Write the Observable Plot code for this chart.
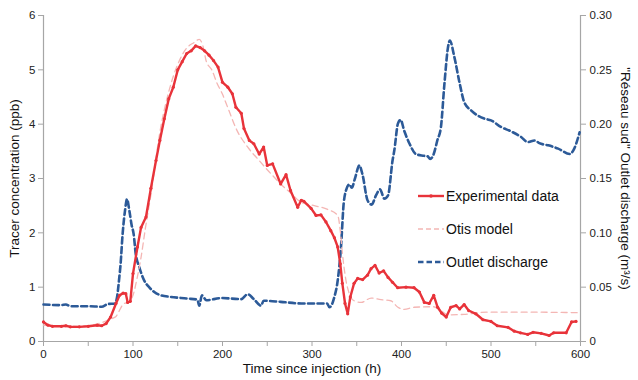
<!DOCTYPE html>
<html><head><meta charset="utf-8">
<script src="https://cdn.jsdelivr.net/npm/d3@7"></script>
<script src="https://cdn.jsdelivr.net/npm/@observablehq/plot@0.6"></script>
<style>
body{margin:0;background:#fff;font-family:"Liberation Sans",Arial,sans-serif}
#wrap{position:relative;width:638px;height:380px}
#legend{position:absolute;left:418px;top:186px;font-size:14px;color:#111}
#legend div{height:33px;display:flex;align-items:center;position:relative;top:-7px}
#legend svg{margin-right:2px}
</style>
</head><body><div id="wrap"><div id="legend"></div></div>
<script>
// Experimental data (ppb)
const expT = [0,5,10,20,25,30,40,50,60,65,70,75,81,85,89,92,94,97,100,105,109,114.5,120,125.7,130,135,140,145,150,155,160,165,170,175,180,185,190,195,200,206,211,215,221,224,230,235,241,246,250,256,265,271,276,284,288,291,299,304.5,310,315.6,321,325,328.7,331.6,333.9,336.9,339.9,342.8,347,351,356.6,362,366,370.4,375,380,385,390,395.7,405,414,420,425.5,431,436,440.4,445,450,455,461,465,470,475,483,491,500,507,519,526,533,541,547,556,565,570,584,590,595];
const expC = [0.36,0.3,0.28,0.28,0.29,0.27,0.27,0.28,0.3,0.29,0.33,0.45,0.7,0.85,0.89,0.88,0.72,0.74,1.25,1.74,2.1,2.29,2.82,3.33,3.7,4.1,4.47,4.68,5.0,5.15,5.3,5.35,5.44,5.41,5.35,5.27,5.17,5.05,4.77,4.68,4.56,4.31,4.2,3.92,3.7,3.64,3.45,3.58,3.24,3.27,2.9,3.07,2.78,2.47,2.6,2.58,2.45,2.32,2.33,2.2,2.04,1.91,1.74,1.43,1.07,0.7,0.51,0.82,1.07,1.16,1.14,1.22,1.34,1.4,1.26,1.3,1.18,1.09,0.99,1.0,0.99,0.91,0.72,0.7,0.85,0.63,0.52,0.45,0.63,0.66,0.6,0.68,0.57,0.51,0.4,0.37,0.29,0.26,0.19,0.16,0.13,0.17,0.15,0.11,0.16,0.16,0.36,0.37];
// Otis model (ppb)
const otisT = [0,40,80,90,95,100,105,109,114,120,130,140,150,160,168,174,178,182,188,194,200,206,216,228,241,254,265,277,288,302.6,317.5,328.7,331.6,334,338,341.7,347,355,366,377,388,396,403,414,436,443,452,470,496,540,598];
const otisC = [0.3,0.28,0.45,0.7,0.72,0.85,1.2,1.55,2.1,2.7,3.85,4.6,5.1,5.4,5.5,5.56,5.45,5.15,5.0,4.75,4.55,4.3,3.89,3.58,3.33,3.09,2.9,2.72,2.56,2.5,2.43,2.32,2.04,1.62,1.12,0.88,0.75,0.72,0.8,0.77,0.75,0.63,0.59,0.63,0.64,0.58,0.49,0.5,0.54,0.54,0.53];
// Outlet discharge (m3/s)
const qT = [0,20,25,30,50,65,72,80,82,84.7,86,88.5,91,93.3,96,98.5,100.7,103,107,112.6,118,123.8,131,142.5,161,172,174,177,182,199,221,228,235,243,246,265,288,317,319.4,325,328.7,332.4,335.4,338,341.7,344.4,348,352.9,356.6,362,366.7,371.5,376,380.8,385,390,392,396,399,403,409,416,424,429,432,436,440,444,448,452,454,459,465,470,478,485,493,500,511,522,534,541,549,554,564,575,588,593,599];
const qV = [0.034,0.0335,0.034,0.0325,0.0325,0.032,0.0345,0.035,0.04,0.059,0.07,0.1,0.12,0.131,0.12,0.107,0.099,0.081,0.0685,0.056,0.05,0.0455,0.0425,0.041,0.0395,0.0385,0.033,0.0425,0.038,0.04,0.039,0.0435,0.039,0.033,0.0375,0.0365,0.035,0.035,0.0315,0.041,0.056,0.087,0.127,0.139,0.1445,0.1415,0.15,0.162,0.153,0.13,0.126,0.1345,0.14,0.1315,0.1345,0.1665,0.176,0.2005,0.204,0.194,0.182,0.1725,0.171,0.1705,0.168,0.1725,0.185,0.197,0.2375,0.271,0.277,0.262,0.2375,0.2205,0.2125,0.208,0.205,0.2035,0.1975,0.1935,0.188,0.1835,0.185,0.1825,0.1805,0.1775,0.1725,0.1775,0.1925];
// Tick labels
const xTicks = [0,100,200,300,400,500,600];
const yTicks = [0,1,2,3,4,5,6];
const qTicks = [0,0.05,0.10,0.15,0.20,0.25,0.30];
const series = ["Experimental data","Otis model","Outlet discharge"];

const RED = "#e8333a", PINK = "#f4b6b4", BLUE = "#2c5a98", AXIS = "#a6a6a6";
const qToY = q => q * 20; // right axis 0–0.30 maps onto left 0–6

const exp = expT.map((t,i)=>({t, v: expC[i]}));
const otis = otisT.map((t,i)=>({t, v: otisC[i]}));
const dis = qT.map((t,i)=>({t, v: qToY(qV[i])}));

const chart = Plot.plot({
  width: 638, height: 380,
  marginLeft: 43, marginRight: 58, marginTop: 15, marginBottom: 39,
  style: {fontFamily: '"Liberation Sans", Arial, sans-serif', fontSize: "11.5px", color: "#222", background: "#fff"},
  x: {domain: [0, 600]},
  y: {domain: [0, 6]},
  marks: [
    Plot.ruleX([0], {stroke: AXIS, strokeWidth: 1.2}),
    Plot.ruleX([600], {stroke: AXIS, strokeWidth: 1.2}),
    Plot.ruleY([0], {stroke: AXIS, strokeWidth: 1.2}),
    Plot.axisX({ticks: d3.range(0, 601, 50), tickSize: 5, tickFormat: d => xTicks.includes(d) ? String(d) : "", stroke: AXIS, label: null, tickPadding: 3}),
    Plot.axisY({ticks: yTicks, tickSize: 5, tickFormat: d => String(d), stroke: AXIS, label: null, tickPadding: 3}),
    Plot.axisY({anchor: "right", ticks: qTicks.map(qToY), tickSize: 5, stroke: AXIS, label: null, tickPadding: 4,
      tickFormat: d => { const q = d / 20; return q === 0 ? "0" : q.toFixed(2); }}),
    Plot.line(dis, {x: "t", y: "v", stroke: BLUE, strokeWidth: 2.6, strokeDasharray: "6,3.5", curve: "monotone-x"}),
    Plot.line(otis, {x: "t", y: "v", stroke: PINK, strokeWidth: 1.3, strokeDasharray: "6,4", curve: "monotone-x"}),
    Plot.line(exp, {x: "t", y: "v", stroke: RED, strokeWidth: 2.4, curve: "linear"}),
    Plot.dot(exp, {x: "t", y: "v", r: 1.6, fill: RED, stroke: null}),
    Plot.text(["Time since injection (h)"], {frameAnchor: "bottom", dy: 31, fontSize: 13.5, fill: "#111", textAnchor: "middle"}),
    Plot.text(["Tracer concentration (ppb)"], {frameAnchor: "left", dx: -29, rotate: -90, fontSize: 13.5, fill: "#111", textAnchor: "middle"}),
    Plot.text(["\"Réseau sud\" Outlet discharge (m³/s)"], {frameAnchor: "right", dx: 45, rotate: 90, fontSize: 13.5, fill: "#111", textAnchor: "middle"})
  ]
});
const wrap = document.getElementById("wrap");
wrap.insertBefore(chart, wrap.firstChild);

const legend = document.getElementById("legend");
const sw = [
  `<svg width="26" height="6"><line x1="0" y1="3" x2="26" y2="3" stroke="${RED}" stroke-width="2.4"/><circle cx="13" cy="3" r="1.8" fill="${RED}"/></svg>`,
  `<svg width="26" height="6"><line x1="0" y1="3" x2="26" y2="3" stroke="${PINK}" stroke-width="1.3" stroke-dasharray="5,3"/></svg>`,
  `<svg width="26" height="6"><line x1="0" y1="3" x2="26" y2="3" stroke="${BLUE}" stroke-width="2.6" stroke-dasharray="5.5,3"/></svg>`
];
series.forEach((s,i)=>{
  const d = document.createElement("div");
  d.innerHTML = sw[i] + `<span>${s}</span>`;
  legend.appendChild(d);
});
</script></body></html>
